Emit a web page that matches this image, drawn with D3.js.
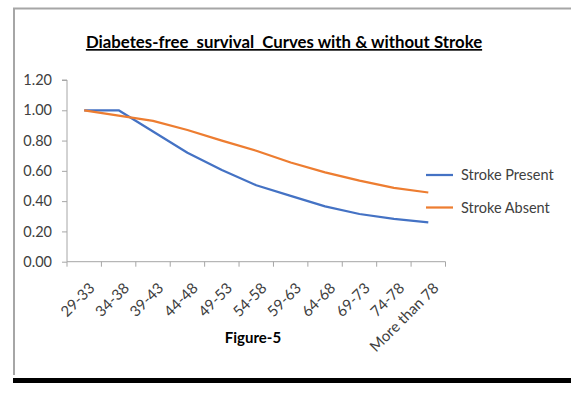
<!DOCTYPE html>
<html>
<head>
<meta charset="utf-8">
<script src="https://cdn.jsdelivr.net/npm/d3@7"></script>
<style>
  body { margin: 0; background: #fff; }
  svg text { font-family: Lato, "Open Sans", sans-serif; fill: #404040; }
</style>
</head>
<body>
<div id="chart"></div>
<script>
// age groups on the x axis
const ageGroups = ['29-33','34-38','39-43','44-48','49-53','54-58','59-63','64-68','69-73','74-78','More than 78'];
// diabetes-free survival
const strokePresent = [1.00, 1.00, 0.86, 0.72, 0.605, 0.505, 0.435, 0.365, 0.315, 0.283, 0.26];
const strokeAbsent  = [1.00, 0.965, 0.93, 0.87, 0.80, 0.733, 0.655, 0.59, 0.535, 0.487, 0.457];
const yTicks = [0, 0.2, 0.4, 0.6, 0.8, 1.0, 1.2];

const series = [
  {name: 'Stroke Present', values: strokePresent, color: '#4472C4'},
  {name: 'Stroke Absent', values: strokeAbsent, color: '#ED7D31'}
];

const width = 571, height = 393;
const svg = d3.select('#chart').append('svg')
  .attr('width', width)
  .attr('height', height);

// frame of the chart area
svg.append('path')
  .attr('d', 'M14,375 V8.5 H571')
  .attr('fill', 'none')
  .attr('stroke', '#a6a6a6')
  .attr('stroke-width', 2);
svg.append('rect')
  .attr('x', 13).attr('y', 378)
  .attr('width', 558).attr('height', 5)
  .attr('fill', '#000');

// title
svg.append('text')
  .attr('x', 284).attr('y', 48)
  .attr('text-anchor', 'middle')
  .style('font-size', '16.8px')
  .style('font-weight', 'bold')
  .style('fill', '#000')
  .style('text-decoration', 'underline')
  .attr('xml:space', 'preserve')
  .text('Diabetes-free  survival  Curves with & without Stroke');

// scales
const x = d3.scaleBand().domain(ageGroups).range([67, 445.5]);
const y = d3.scaleLinear().domain([0, 1.2]).range([261.7, 80]);

// y axis
const yAxis = svg.append('g')
  .attr('transform', 'translate(67,0)')
  .call(d3.axisLeft(y).tickValues(yTicks).tickFormat(d3.format('.2f')).tickSize(5).tickPadding(10));
yAxis.select('.domain').attr('stroke', '#a6a6a6').attr('d', `M-5,${y(1.2)}H0V${y(0)}`);
yAxis.selectAll('.tick line').attr('stroke', '#a6a6a6');
yAxis.selectAll('.tick text').style('font-size', '14.5px').style('fill', '#404040').attr('font-family', null);

// x axis with tick marks between the categories
const xAxis = svg.append('g').attr('transform', `translate(0,${y(0)})`);
xAxis.append('line')
  .attr('x1', x.range()[0]).attr('x2', x.range()[1])
  .attr('stroke', '#a6a6a6');
xAxis.selectAll('line.tick')
  .data(ageGroups.concat(['end']))
  .join('line')
  .classed('tick', true)
  .attr('x1', (d, i) => x.range()[0] + i * x.step())
  .attr('x2', (d, i) => x.range()[0] + i * x.step())
  .attr('y1', 0).attr('y2', 5)
  .attr('stroke', '#a6a6a6');
xAxis.selectAll('text')
  .data(ageGroups)
  .join('text')
  .attr('transform', d => `translate(${x(d) + x.bandwidth() / 2 + 4},20) rotate(-45)`)
  .attr('text-anchor', 'end')
  .attr('dy', '0.7em')
  .style('font-size', '15px')
  .text(d => d);

// x axis caption
svg.append('text')
  .attr('x', 253).attr('y', 343)
  .attr('text-anchor', 'middle')
  .style('font-size', '15px')
  .style('font-weight', 'bold')
  .style('fill', '#000')
  .text('Figure-5');

// lines
const line = d3.line()
  .x((d, i) => x(ageGroups[i]) + x.bandwidth() / 2)
  .y(d => y(d));

svg.selectAll('path.series')
  .data(series)
  .join('path')
  .classed('series', true)
  .attr('d', d => line(d.values))
  .attr('fill', 'none')
  .attr('stroke', d => d.color)
  .attr('stroke-width', 2.25)
  .attr('stroke-linejoin', 'round');

// legend
const legend = svg.selectAll('g.legend')
  .data(series)
  .join('g')
  .classed('legend', true)
  .attr('transform', (d, i) => `translate(426,${175 + i * 32.5})`);
legend.append('line')
  .attr('x1', 0).attr('x2', 27)
  .attr('stroke', d => d.color)
  .attr('stroke-width', 2.25);
legend.append('text')
  .attr('x', 35).attr('dy', '0.35em')
  .style('font-size', '14.5px')
  .text(d => d.name);
</script>
</body>
</html>
